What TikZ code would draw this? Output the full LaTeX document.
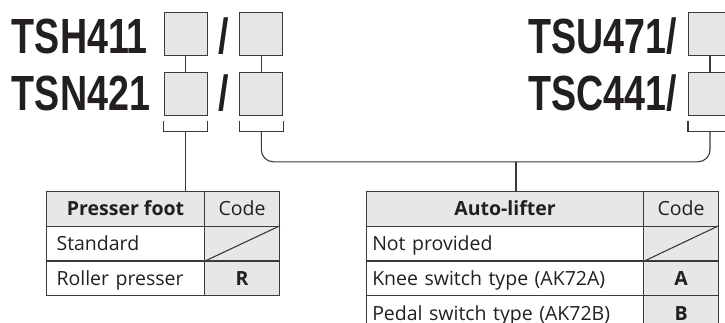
\documentclass[tikz,border=0pt]{standalone}
\usepackage{fontspec}
\setmainfont{Open Sans}
\newfontfamily\bigfont[FakeStretch=0.762]{Liberation Sans}
\usetikzlibrary{calc}
\definecolor{ink}{HTML}{231F20}
\definecolor{ln}{HTML}{3A3A3A}
\definecolor{boxgray}{HTML}{E6E7E8}
\begin{document}
\begin{tikzpicture}[x=1pt,y=-1pt,
  bigtxt/.style={font=\bigfont\bfseries\fontsize{49.4}{50}\selectfont, inner sep=0, text=ink},
  codebox/.style={draw=ln, fill=boxgray, line width=1.1pt, minimum width=43, minimum height=42.5, inner sep=0},
  conn/.style={draw=ln, line width=1.1pt},
  cell/.style={draw=ln, line width=1.1pt, inner sep=0, minimum height=34.7, anchor=north west,
    text height=14, text depth=0, text=ink, font=\fontsize{19.5}{22}\selectfont},
  hdr/.style={cell, fill=boxgray},
  codecell/.style={cell, fill=boxgray, font=\fontsize{19.5}{22}\selectfont\bfseries},
  ltxt/.style={cell, align=left}
]
\useasboundingbox (0,0) rectangle (725,322);

% big part numbers
\node[bigtxt, anchor=base west] (t1) at (11.7,53.3) {TSH411};
\node[bigtxt, anchor=base west] (t2) at (11.7,110) {TSN421};
\node[bigtxt, anchor=base] (s1) at (223.5,53.3) {/};
\node[bigtxt, anchor=base] (s2) at (223.5,110) {/};
\node[bigtxt, anchor=base east] (t3) at (677,53.3) {TSU471/};
\node[bigtxt, anchor=base east] (t4) at (677,110) {TSC441/};

% code boxes
\node[codebox] (b11) at (185.8,33.8) {};
\node[codebox] (b12) at (261.3,33.8) {};
\node[codebox] (b21) at (185.8,93.8) {};
\node[codebox] (b22) at (261.3,93.8) {};
\node[codebox] (r1) at (710,33.8) {};
\node[codebox] (r2) at (710,93.8) {};
\draw[conn] (b11.south) -- (b21.north);
\draw[conn] (b12.south) -- (b22.north);
\draw[conn] (r1.south) -- (r2.north);

% brackets
\coordinate (k1) at ($(b21.south)+(0,16.2)$);
\coordinate (k2) at ($(b22.south)+(0,16.2)$);
\coordinate (k3) at ($(r2.south)+(0,16.2)$);
\draw[conn] ($(b21.south west)+(0,5.8)$) |- (k1) -| ($(b21.south east)+(0,5.8)$);
\draw[conn] ($(b22.south west)+(0,5.8)$) |- (k2) -| ($(b22.south east)+(0,5.8)$);
\draw[conn] ($(r2.south west)+(0,5.8)$) |- (k3) -| ($(r2.south east)+(0,5.8)$);

% left table
\node[hdr, minimum width=158] (lph) at (46,191) {\bfseries Presser foot};
\node[hdr, minimum width=75] (lch) at (204,191) {Code};
\node[ltxt, text width=138, minimum width=158] (l1) at (46,225.7) {Standard};
\node[codecell, minimum width=75] (lc1) at (204,225.7) {};
\node[ltxt, text width=138, minimum width=158] (l2) at (46,260.4) {Roller presser};
\node[codecell, minimum width=75] (lc2) at (204,260.4) {R};
\draw[conn] (lc1.south west) -- (lc1.north east);

% right table
\node[hdr, minimum width=277.6] (rah) at (365.7,191) {\bfseries Auto-lifter};
\node[hdr, minimum width=74.4] (rch) at (643.3,191) {Code};
\node[ltxt, text width=265.6, minimum width=277.6] (a1) at (365.7,225.7) {Not provided};
\node[codecell, minimum width=74.4] (ac1) at (643.3,225.7) {};
\node[ltxt, text width=265.6, minimum width=277.6] (a2) at (365.7,260.4) {Knee switch type (AK72A)};
\node[codecell, minimum width=74.4] (ac2) at (643.3,260.4) {A};
\node[ltxt, text width=265.6, minimum width=277.6] (a3) at (365.7,295.1) {Pedal switch type (AK72B)};
\node[codecell, minimum width=74.4] (ac3) at (643.3,295.1) {B};
\draw[conn] (ac1.south west) -- (ac1.north east);

% connectors to tables
\coordinate (j) at (516,161.7);
\draw[conn] (k1) -- (k1 |- lph.north);
\draw[conn, rounded corners=12] (k2) |- ($(k3)+(0,30)$) -- (k3);
\draw[conn] (j) -- (j |- rah.north);
\end{tikzpicture}
\end{document}
